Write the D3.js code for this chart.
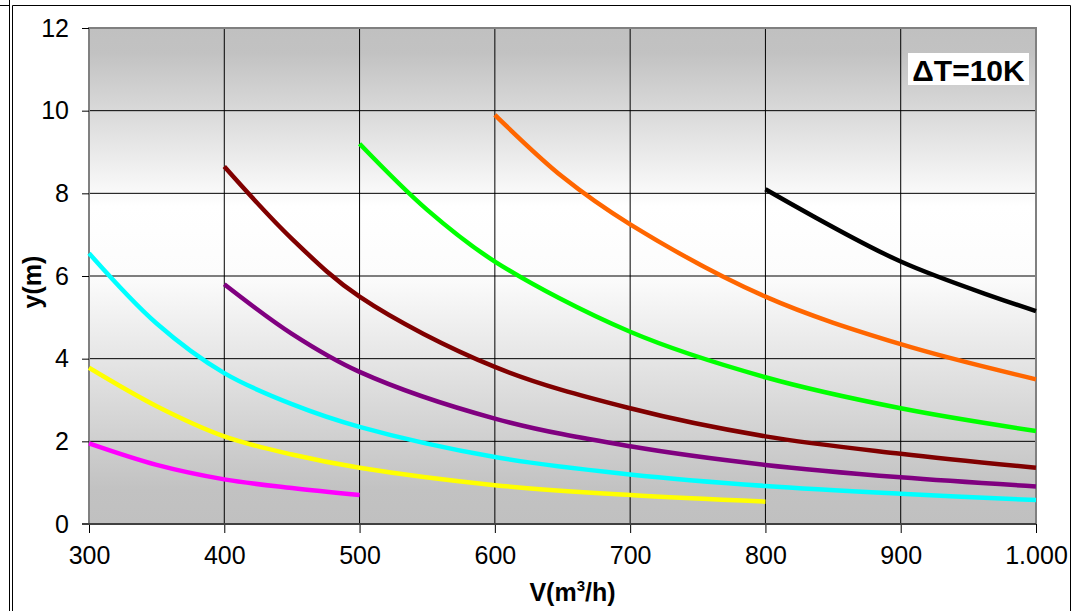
<!DOCTYPE html>
<html>
<head>
<meta charset="utf-8">
<script src="https://cdn.jsdelivr.net/npm/d3@7"></script>
<style>
  html, body { margin: 0; padding: 0; background: #fff; }
  svg { display: block; font-family: "Liberation Sans", Arial, sans-serif; }
</style>
</head>
<body>
<svg id="chart" width="1083" height="611"></svg>
<script>
// ---------- DATA ----------
const xTicks = [300, 400, 500, 600, 700, 800, 900, 1000];
const xTickLabels = ["300", "400", "500", "600", "700", "800", "900", "1.000"];
const yTicks = [0, 2, 4, 6, 8, 10, 12];
const yTickLabels = ["0", "2", "4", "6", "8", "10", "12"];

const magentaV = [300, 350, 400, 450, 500];
const magentaY = [1.95, 1.43, 1.08, 0.87, 0.70];

const yellowV = [300, 350, 400, 450, 500, 600, 700, 800];
const yellowY = [3.78, 2.85, 2.12, 1.68, 1.36, 0.94, 0.70, 0.54];

const cyanV = [300, 350, 400, 450, 500, 600, 700, 800, 900, 1000];
const cyanY = [6.55, 4.85, 3.65, 2.90, 2.35, 1.62, 1.20, 0.92, 0.73, 0.58];

const purpleV = [400, 450, 500, 600, 700, 800, 900, 1000];
const purpleY = [5.80, 4.60, 3.68, 2.55, 1.88, 1.43, 1.13, 0.91];

const darkRedV = [400, 450, 500, 600, 700, 800, 900, 1000];
const darkRedY = [8.65, 6.90, 5.50, 3.80, 2.80, 2.12, 1.70, 1.36];

const greenV = [500, 550, 600, 700, 800, 900, 1000];
const greenY = [9.20, 7.60, 6.35, 4.65, 3.55, 2.80, 2.25];

const orangeV = [600, 650, 700, 800, 900, 1000];
const orangeY = [9.90, 8.40, 7.25, 5.50, 4.35, 3.50];

const blackV = [800, 900, 1000];
const blackY = [8.10, 6.35, 5.15];

const seriesNames = ["magenta", "yellow", "cyan", "purple", "darkRed", "green", "orange", "black"];
const seriesColors = ["#ff00ff", "#ffff00", "#00ffff", "#800080", "#800000", "#00ff00", "#ff6600", "#000000"];
const seriesV = [magentaV, yellowV, cyanV, purpleV, darkRedV, greenV, orangeV, blackV];
const seriesY = [magentaY, yellowY, cyanY, purpleY, darkRedY, greenY, orangeY, blackY];

const xTitle = "V(m";
const xTitleSup = "3";
const xTitleEnd = "/h)";
const yTitle = "y(m)";
const annotation = "ΔT=10K";

// ---------- LAYOUT ----------
const svg = d3.select("#chart");
const plot = { left: 89, right: 1036, top: 28, bottom: 524 };

const x = d3.scaleLinear().domain([300, 1000]).range([plot.left, plot.right]);
const y = d3.scaleLinear().domain([0, 12]).range([plot.bottom, plot.top]);

// outer frames
svg.append("line").attr("x1", 9.5).attr("x2", 9.5).attr("y1", 0).attr("y2", 611).attr("stroke", "#000").attr("stroke-width", 1);
svg.append("line").attr("x1", 0).attr("x2", 9.5).attr("y1", 5.5).attr("y2", 5.5).attr("stroke", "#000").attr("stroke-width", 1);
svg.append("path")
  .attr("d", "M12.5,611 L12.5,5.5 L1070.5,5.5 L1070.5,611")
  .attr("fill", "none").attr("stroke", "#000").attr("stroke-width", 1);

// gradient
const defs = svg.append("defs");
const grad = defs.append("linearGradient").attr("id", "bg").attr("x1", 0).attr("y1", 0).attr("x2", 0).attr("y2", 1);
[[0, "#c0c0c0"], [0.05, "#c2c2c2"], [0.36, "#ffffff"], [0.5, "#fcfcfc"], [0.93, "#c2c2c2"], [1, "#c0c0c0"]]
  .forEach(([o, c]) => grad.append("stop").attr("offset", o).attr("stop-color", c));

svg.append("rect")
  .attr("x", plot.left).attr("y", plot.top)
  .attr("width", plot.right - plot.left).attr("height", plot.bottom - plot.top)
  .attr("fill", "url(#bg)");

// gridlines
const grid = svg.append("g");
grid.selectAll(".hg").data(yTicks.filter(d => d > 0 && d < 12)).enter().append("line")
  .attr("x1", plot.left).attr("x2", plot.right)
  .attr("y1", d => y(d)).attr("y2", d => y(d))
  .attr("stroke", "#000").attr("stroke-width", 1);
grid.selectAll(".vg").data(xTicks.filter(d => d > 300 && d < 1000)).enter().append("line")
  .attr("y1", plot.top).attr("y2", plot.bottom)
  .attr("x1", d => x(d)).attr("x2", d => x(d))
  .attr("stroke", "#000").attr("stroke-width", 1);

// plot border
svg.append("rect")
  .attr("x", plot.left).attr("y", plot.top)
  .attr("width", plot.right - plot.left).attr("height", plot.bottom - plot.top)
  .attr("fill", "none").attr("stroke", "#808080").attr("stroke-width", 2);

// series
const line = d3.line().x(d => x(d[0])).y(d => y(d[1])).curve(d3.curveCatmullRom.alpha(0.5));
const seriesG = svg.append("g");
seriesNames.forEach((n, i) => {
  const pts = seriesV[i].map((v, j) => [v, seriesY[i][j]]);
  seriesG.append("path").datum(pts)
    .attr("d", line)
    .attr("fill", "none")
    .attr("stroke", seriesColors[i])
    .attr("stroke-width", 4.5)
    .attr("stroke-linejoin", "round");
});

// axes
const yAxis = d3.axisLeft(y).tickValues(yTicks).tickSize(7).tickPadding(13)
  .tickFormat((d, i) => yTickLabels[i]);
const yG = svg.append("g").attr("transform", `translate(${plot.left},0)`).call(yAxis);
yG.select(".domain").remove();
yG.selectAll(".tick line").attr("stroke", "#000");
yG.selectAll(".tick text").attr("font-size", 25).attr("fill", "#000").attr("font-family", "Liberation Sans, Arial, sans-serif");

const xAxis = d3.axisBottom(x).tickValues(xTicks).tickSize(9).tickPadding(13)
  .tickFormat((d, i) => xTickLabels[i]);
const xG = svg.append("g").attr("transform", `translate(0,${plot.bottom})`).call(xAxis);
xG.select(".domain").remove();
xG.selectAll(".tick line").attr("stroke", "#000");
xG.selectAll(".tick text").attr("font-size", 25).attr("fill", "#000").attr("font-family", "Liberation Sans, Arial, sans-serif");

// bottom axis line
svg.append("line").attr("x1", plot.left - 7).attr("x2", plot.right).attr("y1", plot.bottom).attr("y2", plot.bottom)
  .attr("stroke", "#404040").attr("stroke-width", 2);

// axis titles
const xt = svg.append("text")
  .attr("x", (plot.left + plot.right) / 2 + 10).attr("y", 601)
  .attr("text-anchor", "middle").attr("font-size", 25).attr("font-weight", "bold");
xt.append("tspan").text(xTitle);
xt.append("tspan").attr("font-size", 15).attr("dy", -10).text(xTitleSup);
xt.append("tspan").attr("dy", 10).text(xTitleEnd);

svg.append("text")
  .attr("transform", "translate(41,282) rotate(-90)")
  .attr("text-anchor", "middle").attr("font-size", 25).attr("font-weight", "bold")
  .text(yTitle);

// annotation
svg.append("rect").attr("x", 908).attr("y", 53).attr("width", 121).attr("height", 32).attr("fill", "#fff");
svg.append("text").attr("x", 968.5).attr("y", 81)
  .attr("text-anchor", "middle").attr("font-size", 30).attr("font-weight", "bold")
  .text(annotation);
</script>
</body>
</html>
